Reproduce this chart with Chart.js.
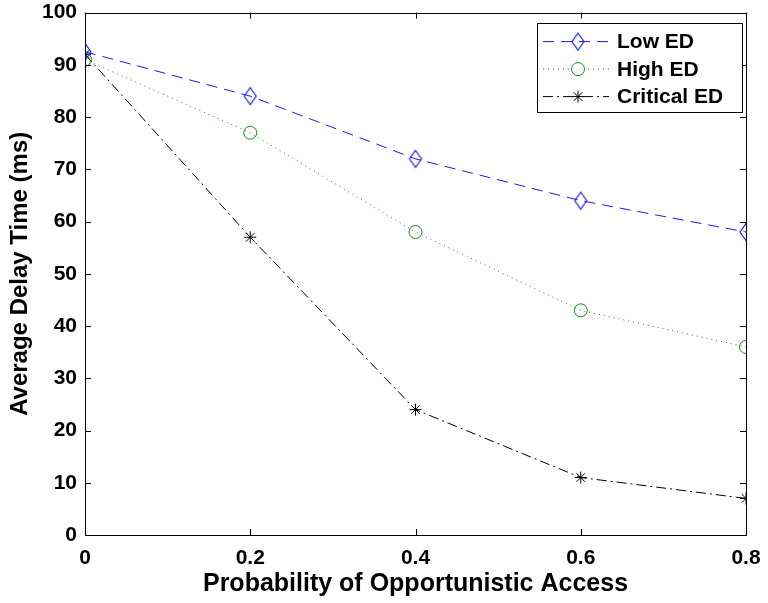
<!DOCTYPE html>
<html>
<head>
<meta charset="utf-8">
<script src="https://cdn.jsdelivr.net/npm/chart.js@4"></script>
<style>
  html, body { margin: 0; padding: 0; background: #fff; }
</style>
</head>
<body>
<canvas id="chart" width="768" height="603"></canvas>
<script>
// Data
const xValues = [0, 0.2, 0.4, 0.6, 0.8];
const lowED = [92.5, 84, 72, 64, 58];
const highED = [91, 77, 58, 43, 36];
const criticalED = [92, 57, 24, 11, 7];
const seriesNames = ['Low ED', 'High ED', 'Critical ED'];
const xTicks = [0, 0.2, 0.4, 0.6, 0.8];
const yTicks = [0, 10, 20, 30, 40, 50, 60, 70, 80, 90, 100];

const FONT = '"Liberation Sans", Arial, Helvetica, sans-serif';

// tall hollow diamond marker, like matlab 'd'
function makeDiamond(color) {
  const c = document.createElement('canvas');
  c.width = 16; c.height = 20;
  const g = c.getContext('2d');
  g.strokeStyle = color;
  g.lineWidth = 1.2;
  g.beginPath();
  g.moveTo(8, 1.5);
  g.lineTo(14, 10);
  g.lineTo(8, 18.5);
  g.lineTo(2, 10);
  g.closePath();
  g.stroke();
  return c;
}
const diamond = makeDiamond('#1a1ae6');

const toPoints = (ys) => ys.map((y, i) => ({ x: xValues[i], y: y }));

// inward ticks on all four sides + box
const boxTicks = {
  id: 'boxTicks',
  afterDraw(chart) {
    const { ctx, chartArea: a, scales } = chart;
    const len = 6;
    ctx.save();
    ctx.strokeStyle = '#000';
    ctx.lineWidth = 1;
    ctx.beginPath();
    xTicks.forEach(v => {
      const px = Math.round(scales.x.getPixelForValue(v)) + 0.5;
      ctx.moveTo(px, a.bottom); ctx.lineTo(px, a.bottom - len);
      ctx.moveTo(px, a.top); ctx.lineTo(px, a.top + len);
    });
    yTicks.forEach(v => {
      const py = Math.round(scales.y.getPixelForValue(v)) + 0.5;
      ctx.moveTo(a.left, py); ctx.lineTo(a.left + len, py);
      ctx.moveTo(a.right, py); ctx.lineTo(a.right - len, py);
    });
    ctx.stroke();
    ctx.strokeRect(Math.round(a.left) + 0.5, Math.round(a.top) + 0.5,
      Math.round(a.right - a.left), Math.round(a.bottom - a.top));
    ctx.restore();
  }
};

// legend box inside the plot, top right
const insideLegend = {
  id: 'insideLegend',
  afterDraw(chart) {
    const { ctx, chartArea: a } = chart;
    const boxR = a.right - 4, boxT = a.top + 10;
    const boxW = 205, boxH = 89;
    const boxL = boxR - boxW;
    ctx.save();
    ctx.fillStyle = '#fff';
    ctx.fillRect(boxL, boxT, boxW, boxH);
    ctx.strokeStyle = '#000';
    ctx.lineWidth = 1;
    ctx.strokeRect(Math.round(boxL) + 0.5, Math.round(boxT) + 0.5, boxW, boxH);
    ctx.font = 'bold 21px ' + FONT;
    ctx.textBaseline = 'middle';
    chart.data.datasets.forEach((ds, i) => {
      const cy = boxT + 19 + i * 27.5;
      ctx.strokeStyle = ds.borderColor;
      ctx.lineWidth = 1;
      ctx.setLineDash(ds.borderDash || []);
      ctx.beginPath();
      ctx.moveTo(boxL + 6, cy);
      ctx.lineTo(boxL + 72, cy);
      ctx.stroke();
      ctx.setLineDash([]);
      const mx = boxL + 41;
      ctx.fillStyle = '#fff';
      Chart.helpers.drawPoint(ctx, {
        pointStyle: ds.pointStyle, radius: ds.pointRadius, borderWidth: ds.pointBorderWidth || 1, rotation: 0
      }, mx, cy);
      ctx.fillStyle = '#000';
      ctx.fillText(seriesNames[i], boxL + 80, cy + 1);
    });
    ctx.restore();
  }
};

new Chart(document.getElementById('chart'), {
  type: 'line',
  data: {
    datasets: [
      {
        label: seriesNames[0],
        data: toPoints(lowED),
        borderColor: '#1a1ae6',
        borderWidth: 1,
        borderDash: [11, 7],
        pointStyle: diamond,
        pointRadius: 8,
        pointBackgroundColor: 'rgba(0,0,0,0)',
        pointBorderColor: '#1a1ae6'
      },
      {
        label: seriesNames[1],
        data: toPoints(highED),
        borderColor: '#1a8c1a',
        borderWidth: 1,
        borderDash: [1, 4],
        pointStyle: 'circle',
        pointRadius: 6.5,
        pointBorderWidth: 1,
        pointBackgroundColor: 'rgba(0,0,0,0)',
        pointBorderColor: '#1a8c1a'
      },
      {
        label: seriesNames[2],
        data: toPoints(criticalED),
        borderColor: '#000',
        borderWidth: 1,
        borderDash: [10, 4, 2, 4],
        pointStyle: 'star',
        pointRadius: 6,
        pointBorderWidth: 1,
        pointBackgroundColor: 'rgba(0,0,0,0)',
        pointBorderColor: '#000'
      }
    ]
  },
  options: {
    responsive: false,
    animation: false,
    devicePixelRatio: 1,
    layout: { padding: { top: 9, right: 22, left: 0, bottom: 0 } },
    plugins: {
      legend: { display: false },
      tooltip: { enabled: false }
    },
    scales: {
      x: {
        type: 'linear',
        min: 0,
        max: 0.8,
        grid: { display: false },
        border: { display: false },
        afterBuildTicks: (s) => { s.ticks = xTicks.map(v => ({ value: v })); },
        afterFit: (s) => { s.height = 68; },
        ticks: {
          padding: 3,
          color: '#000',
          font: { family: FONT, size: 21, weight: 'bold' },
          callback: (v) => String(v)
        },
        title: {
          display: true,
          text: 'Probability of Opportunistic Access',
          color: '#000',
          padding: { top: 4, bottom: 4 },
          font: { family: FONT, size: 25, weight: 'bold' }
        }
      },
      y: {
        min: 0,
        max: 100,
        grid: { display: false },
        border: { display: false },
        afterBuildTicks: (s) => { s.ticks = yTicks.map(v => ({ value: v })); },
        afterFit: (s) => { s.width = 85; },
        ticks: {
          padding: 0,
          color: '#000',
          font: { family: FONT, size: 21, weight: 'bold' }
        },
        title: {
          display: true,
          text: 'Average Delay Time (ms)',
          color: '#000',
          padding: { top: 6, bottom: 0 },
          font: { family: FONT, size: 24, weight: 'bold' }
        }
      }
    }
  },
  plugins: [boxTicks, insideLegend]
});
</script>
</body>
</html>
